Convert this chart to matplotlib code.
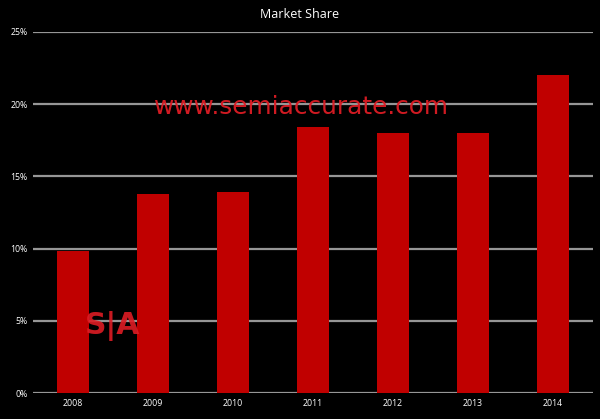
import matplotlib
matplotlib.use("Agg")
import matplotlib.pyplot as plt
from matplotlib.ticker import FuncFormatter

years = ["2008", "2009", "2010", "2011", "2012", "2013", "2014"]
share = [9.8, 13.8, 13.9, 18.4, 18.0, 18.0, 22.0]
yticks = [0, 5, 10, 15, 20, 25]

plt.rcParams['font.family'] = ['Open Sans', 'DejaVu Sans']

fig = plt.figure(figsize=(6, 4.19), dpi=100, facecolor='black')
ax = fig.add_axes([0.055, 0.062, 0.933, 0.862])
ax.set_facecolor('black')

x = list(range(len(years)))
ax.bar(x, share, width=0.4, color='#c00000', zorder=3)

ax.set_xlim(-0.5, len(years) - 0.5)
ax.set_ylim(0, 25)
ax.set_yticks(yticks)
ax.yaxis.set_major_formatter(FuncFormatter(lambda v, p: f"{int(v)}%"))
ax.set_xticks(x)
ax.set_xticklabels(years)
ax.grid(axis='y', color='#969696', linewidth=1.6, zorder=0)
ax.tick_params(colors='white', labelsize=6.3, length=0, pad=4)
for s in ax.spines.values():
    s.set_visible(False)

fig.text(0.5, 0.965, "Market Share", color='white', fontsize=9,
         ha='center', va='center')

fig.text(0.502, 0.745, "www.semiaccurate.com", color='#dd1c24', fontsize=17.8,
         ha='center', va='center', family='DejaVu Sans', alpha=0.95, zorder=5)
fig.text(0.188, 0.222, "S|A", color='#dd1c24', fontsize=21.5, fontweight='bold',
         ha='center', va='center', family='DejaVu Sans', alpha=0.9, zorder=5)

fig.savefig("out.png", dpi=100, facecolor='black')
